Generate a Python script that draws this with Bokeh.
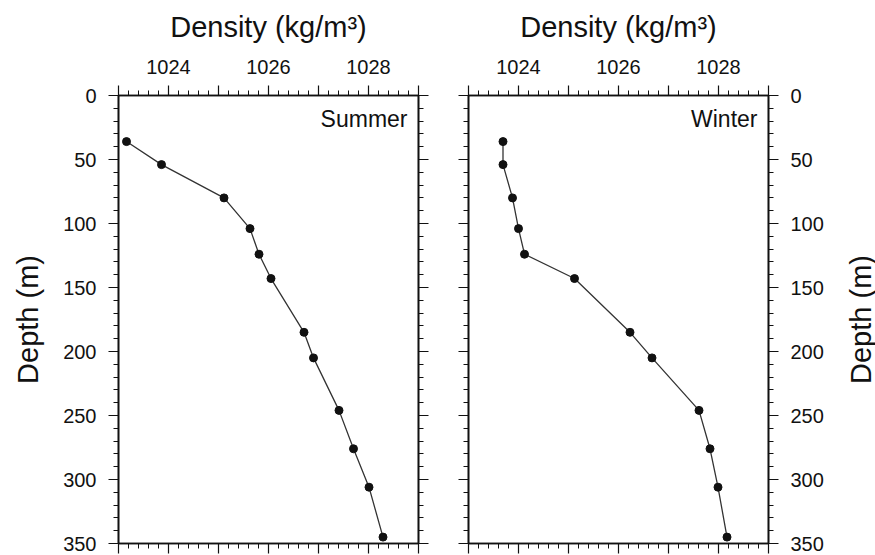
import math
from bokeh.plotting import figure
from bokeh.layouts import row
from bokeh.models import Range1d, LinearAxis, FixedTicker, Label, ColumnDataSource
from bokeh.embed import file_html
from bokeh.resources import INLINE

depth = [36, 54, 80, 104, 124, 143, 185, 205, 246, 276, 306, 345]
summer_density = [1023.16, 1023.86, 1025.11, 1025.63, 1025.81, 1026.05,
                  1026.71, 1026.90, 1027.41, 1027.70, 1028.01, 1028.29]
winter_density = [1023.69, 1023.69, 1023.88, 1024.00, 1024.12, 1025.12,
                  1026.23, 1026.67, 1027.61, 1027.83, 1027.99, 1028.17]
season_names = ["Summer", "Winter"]
x_major = [1023, 1024, 1025, 1026, 1027, 1028, 1029]
x_labeled = [1024, 1026, 1028]
y_major = [0, 50, 100, 150, 200, 250, 300, 350]
x_title = "Density (kg/m\u00b3)"
y_title = "Depth (m)"

FONT = "Liberation Sans"
INK = "#111111"


def style_axis(ax, labels=True):
    ax.axis_line_color = INK
    ax.axis_line_width = 1.6
    ax.major_tick_line_color = INK
    ax.minor_tick_line_color = INK
    ax.major_tick_line_width = 1.2
    ax.minor_tick_line_width = 1.0
    ax.major_tick_out = 10
    ax.major_tick_in = 0
    ax.minor_tick_out = 5
    ax.minor_tick_in = 0
    ax.major_label_text_font = FONT
    ax.major_label_text_color = INK
    ax.major_label_text_font_size = "20px"
    ax.axis_label_text_font = FONT
    ax.axis_label_text_font_style = "normal"
    ax.axis_label_text_color = INK
    ax.axis_label_text_font_size = "29px"
    if labels:
        ax.major_label_standoff = 12
    else:
        ax.major_label_standoff = 0


def make_panel(dens, name, side, lb, rb):
    p = figure(frame_width=300, frame_height=448,
               min_border_left=lb, min_border_right=rb,
               min_border_top=95, min_border_bottom=12,
               x_range=Range1d(1023, 1029), y_range=Range1d(350, 0),
               x_axis_location=None, y_axis_location=None,
               toolbar_location=None, output_backend="svg")
    p.xgrid.visible = False
    p.ygrid.visible = False
    p.outline_line_color = INK
    p.outline_line_width = 1.6
    p.background_fill_color = "white"
    p.border_fill_color = "white"

    xt = FixedTicker(ticks=x_major,
                     minor_ticks=[round(1023 + 0.2 * i, 1) for i in range(31)])
    yt = FixedTicker(ticks=y_major, minor_ticks=list(range(0, 351, 10)))
    over = {v: (str(v) if v in x_labeled else "") for v in x_major}
    blank_x = {v: "" for v in x_major}
    blank_y = {v: "" for v in y_major}

    top = LinearAxis(ticker=xt, axis_label=x_title)
    style_axis(top)
    top.major_label_overrides = over
    top.axis_label_standoff = 14
    p.add_layout(top, "above")

    bot = LinearAxis(ticker=xt)
    style_axis(bot, labels=False)
    bot.major_label_overrides = blank_x
    p.add_layout(bot, "below")

    plain = LinearAxis(ticker=yt)
    style_axis(plain, labels=False)
    plain.major_label_overrides = blank_y
    if side == "left":
        lab_ax = LinearAxis(ticker=yt, axis_label=y_title)
        style_axis(lab_ax)
        lab_ax.axis_label_standoff = 16
        p.add_layout(lab_ax, "left")
        p.add_layout(plain, "right")
    else:
        lab_ax = LinearAxis(ticker=yt)
        style_axis(lab_ax)
        p.add_layout(lab_ax, "right")
        p.add_layout(plain, "left")

    src = ColumnDataSource(dict(x=dens, y=depth))
    p.line("x", "y", source=src, line_color="#333333", line_width=1.3)
    p.scatter("x", "y", source=src, size=8, fill_color=INK, line_color=INK)

    p.add_layout(Label(x=1028.78, y=18, text=name, text_align="right",
                       text_baseline="middle", text_font=FONT,
                       text_font_size="23px", text_color=INK))
    return p


def label_strip():
    # narrow figure that only carries the right-hand "Depth (m)" title,
    # reading bottom-to-top like the left one
    p = figure(frame_width=1, frame_height=448,
               min_border_left=0, min_border_right=0,
               min_border_top=95, min_border_bottom=12,
               x_range=Range1d(0, 1), y_range=Range1d(350, 0),
               x_axis_location=None, y_axis_location=None,
               toolbar_location=None, output_backend="svg")
    p.xgrid.visible = False
    p.ygrid.visible = False
    p.outline_line_color = None
    p.background_fill_color = "white"
    p.border_fill_color = "white"
    ax = LinearAxis(ticker=FixedTicker(ticks=[]), axis_label=y_title)
    ax.axis_line_color = None
    ax.major_tick_line_color = None
    ax.minor_tick_line_color = None
    ax.major_tick_out = 0
    ax.minor_tick_out = 0
    ax.major_label_standoff = 0
    ax.axis_label_standoff = 0
    ax.axis_label_text_font = FONT
    ax.axis_label_text_font_style = "normal"
    ax.axis_label_text_color = INK
    ax.axis_label_text_font_size = "29px"
    p.add_layout(ax, "left")
    return p


p1 = make_panel(summer_density, season_names[0], "left", 118, 25)
p2 = make_panel(winter_density, season_names[1], "right", 25, 73)
p3 = label_strip()
layout = row(p1, p2, p3)

open("out.html", "w").write(file_html(layout, INLINE))
